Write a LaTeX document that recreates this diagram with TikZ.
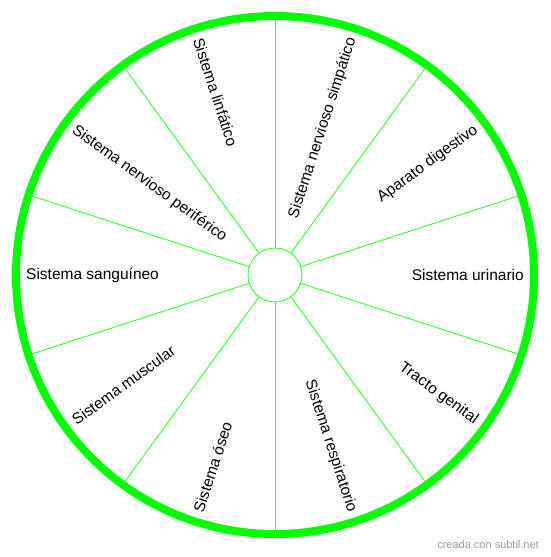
\documentclass[tikz,border=0pt]{standalone}
\usepackage{fontspec}
\setmainfont{Liberation Sans}
\usepackage{xcolor}
\usepackage{tikz}
\definecolor{RGreen}{HTML}{00FF00}
\definecolor{SGreen}{HTML}{33FF33}
\definecolor{WGray}{HTML}{9A9A9A}

\begin{document}
\begin{tikzpicture}[
  x=1pt,y=1pt,
  every node/.style={font=\fontsize{15.5}{18}\selectfont},
  rim/.style={circle,draw=RGreen,line width=8pt,minimum size=518pt,
    inner sep=0pt,outer sep=0pt},
  hub/.style={circle,draw=SGreen,fill=white,line width=0.9pt,minimum size=54pt,
    inner sep=0pt,outer sep=0pt},
  spoke/.style={draw=SGreen,line width=0.9pt},
  lname/.style={anchor=west,inner sep=0pt},
  rname/.style={anchor=east,inner sep=0pt},
  credit/.style={anchor=east,inner sep=0pt,font=\fontsize{11}{13}\selectfont,text=WGray}
]
  \useasboundingbox (-275,-282) rectangle (275,275);
  \node[rim] (rim) at (0,0) {};
  \node[hub] (hub) at (0,0) {};

  \draw[spoke] (hub.90) -- (rim.90);
  \draw[spoke] (hub.126) -- (rim.126);
  \draw[spoke] (hub.162) -- (rim.162);
  \draw[spoke] (hub.198) -- (rim.198);
  \draw[spoke] (hub.234) -- (rim.234);
  \draw[spoke] (hub.270) -- (rim.270);
  \draw[spoke] (hub.306) -- (rim.306);
  \draw[spoke] (hub.342) -- (rim.342);
  \draw[spoke] (hub.18) -- (rim.18);
  \draw[spoke] (hub.54) -- (rim.54);

  % left half, read inwards
  \node[lname,rotate=-72] (linfatico) at (108:249) {Sistema linfático};
  \node[lname,rotate=-36] (periferico) at (144:249) {Sistema nervioso periférico};
  \node[lname] (sanguineo) at (180:249) {Sistema sanguíneo};
  \node[lname,rotate=36] (muscular) at (216:249) {Sistema muscular};
  \node[lname,rotate=72] (oseo) at (252:249) {Sistema óseo};
  % right half, read outwards
  \node[rname,rotate=72] (simpatico) at (72:249) {Sistema nervioso simpático};
  \node[rname,rotate=36] (digestivo) at (36:249) {Aparato digestivo};
  \node[rname] (urinario) at (0:249) {Sistema urinario};
  \node[rname,rotate=-36] (genital) at (-36:249) {Tracto genital};
  \node[rname,rotate=-72] (respiratorio) at (-72:249) {Sistema respiratorio};

  \node[credit] (subtil) at (264,-270) {creada con subtil.net};
\end{tikzpicture}
\end{document}
